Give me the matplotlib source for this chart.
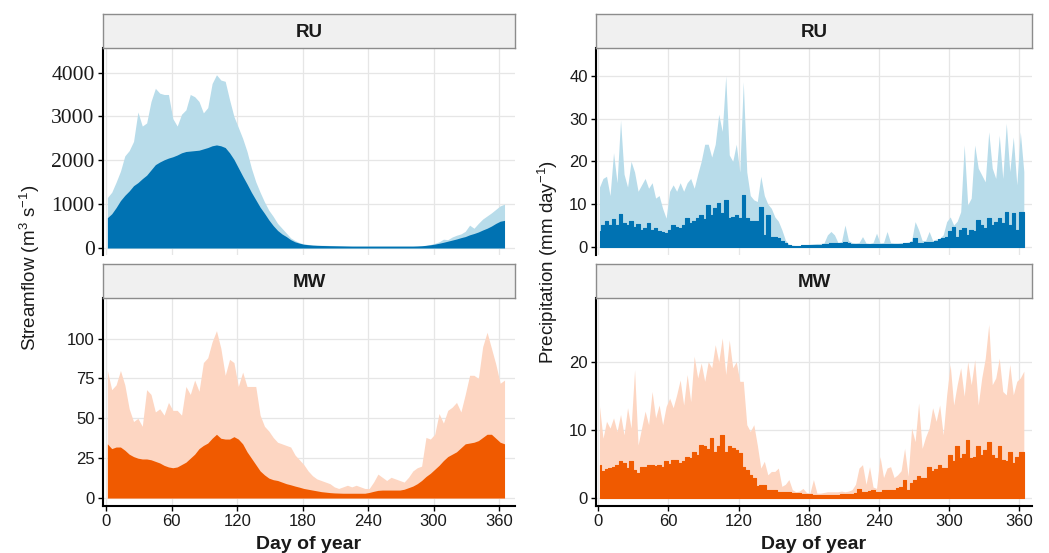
import numpy as np
import matplotlib
matplotlib.use("Agg")
import matplotlib.pyplot as plt

plt.rcParams['font.family'] = ['Liberation Sans', 'DejaVu Sans']
plt.rcParams['mathtext.default'] = 'regular'

# ---- data (day of year) ----
flow_days = list(range(1, 366, 4))      # 4-day steps
rain_days = list(range(1, 365, 3))      # 3-day steps

ru_flow_max = [1150, 1270, 1500, 1750, 2100, 2220, 2430, 3100, 2780, 2850,
               3340, 3640, 3530, 3500, 3500, 2950, 2780, 3050, 3150, 3500,
               3450, 3340, 3080, 3200, 3750, 3950, 3830, 3800, 3380, 3000,
               2750, 2500, 2200, 1820, 1510, 1270, 1050, 860, 720, 560,
               450, 340, 230, 170, 120, 95, 80, 70, 65, 62,
               60, 57, 55, 52, 50, 48, 47, 46, 46, 46,
               46, 46, 46, 46, 46, 46, 46, 46, 46, 46,
               46, 48, 52, 60, 80, 105, 140, 200, 190, 250,
               290, 320, 380, 520, 450, 560, 660, 730, 800, 880,
               960, 1000]
ru_flow_mean = [690, 780, 920, 1080, 1200, 1300, 1420, 1490, 1580, 1660,
                1780, 1900, 1960, 2010, 2050, 2080, 2120, 2170, 2200, 2210,
                2220, 2230, 2260, 2290, 2330, 2350, 2330, 2290, 2170, 2020,
                1830, 1640, 1460, 1270, 1100, 930, 790, 640, 510, 400,
                320, 260, 190, 140, 110, 85, 75, 65, 60, 57,
                55, 52, 50, 48, 46, 44, 42, 42, 42, 42,
                42, 42, 42, 42, 42, 42, 42, 42, 42, 42,
                42, 45, 50, 60, 72, 88, 108, 130, 155, 180,
                205, 235, 260, 300, 330, 365, 410, 450, 500, 560,
                610, 630]

mw_flow_max = [80, 68, 71, 80, 71, 56, 48, 50, 45, 68,
               65, 54, 56, 52, 60, 55, 55, 52, 70, 65,
               74, 67, 85, 88, 98, 105, 94, 77, 87, 85,
               70, 79, 70, 70, 70, 52, 45, 42, 38, 35,
               34, 33, 32, 27, 24, 21, 17, 14, 12, 11,
               10, 9, 7, 6, 7, 8, 7, 8, 7, 6,
               6, 10, 15, 13, 11, 13, 12, 11, 10, 13,
               17, 19, 20, 38, 37, 40, 53, 47, 55, 57,
               60, 54, 65, 77, 77, 75, 95, 104, 94, 84,
               72, 74]
mw_flow_mean = [34, 31, 32, 32, 30, 27.5, 26, 25, 24.5, 24.5,
                24, 23, 22, 20.5, 19.5, 19, 19.5, 21, 22.5, 25,
                27.5, 31, 33, 34.5, 37.5, 40, 37.5, 37, 37, 38.5,
                37, 34, 29, 25, 21, 17, 14.5, 12.5, 11.5, 11,
                10, 9, 8.3, 7.5, 6.8, 6, 5.5, 5, 4.5, 4,
                3.7, 3.4, 3.2, 3.1, 3, 3, 3, 3, 3, 3,
                3.5, 4.2, 4.8, 5, 5, 5, 5, 5, 5.5, 6.5,
                7.5, 9, 11, 13.5, 15.5, 18, 20.5, 23.5, 26, 27.5,
                29, 31.5, 34, 34.5, 35, 36, 38, 40, 40, 37.5,
                35, 34]

ru_rain_max = [14, 16, 16.5, 12, 22, 15, 29.6, 17, 14, 20,
               17.5, 13, 14.5, 16, 13.7, 15, 11.4, 12, 9, 6.7,
               13, 14.5, 13, 15, 13, 15, 16, 13.7, 17, 20,
               24, 24, 21, 24, 31, 27, 40, 21.5, 20, 24,
               17.5, 38.6, 17.5, 12, 11, 10.6, 16.5, 12, 10, 9,
               7, 6, 4, 1.6, 0.6, 0.4, 0.3, 0.3, 0.4, 0.5,
               0.6, 0.7, 0.8, 0.8, 0.9, 2.8, 3.6, 2.8, 1.0, 1.2,
               5.1, 1.5, 1.0, 0.9, 1.0, 2.4, 0.9, 0.8, 1.0, 3.2,
               0.9, 1.0, 3.6, 1.0, 0.9, 0.9, 1.0, 1.0, 1.1, 1.5,
               5.9, 4.0, 1.5, 1.5, 3.6, 1.5, 1.8, 2.0, 2.8, 5.9,
               7.0, 5.1, 6.0, 8.2, 23.8, 9.8, 11.4, 23.8, 18.4, 16.8,
               15.2, 26.9, 18.4, 16, 26.1, 16, 28.9, 17.6, 25.7, 14.5,
               26.9, 17.6]
ru_rain_mean = [3.6, 5, 6, 5, 6.5, 5, 7.8, 5.5, 5, 6,
                4.7, 5.3, 4, 4.4, 5.5, 4, 4.5, 3.6, 3.4, 3.2,
                4, 5, 4.7, 4.5, 5, 6.7, 5.5, 6, 6.7, 7.5,
                6.5, 9.8, 7.5, 9, 10.2, 7.9, 11, 6.7, 7, 7.5,
                6.7, 12.1, 6.7, 6, 6, 6, 9.4, 2.8, 7.5, 2.4,
                2.4, 2, 1.4, 0.9, 0.4, 0.3, 0.2, 0.3, 0.4, 0.5,
                0.5, 0.5, 0.5, 0.5, 0.6, 0.6, 0.8, 0.8, 0.8, 0.9,
                1.2, 0.8, 0.6, 0.6, 0.6, 0.6, 0.6, 0.6, 0.6, 0.6,
                0.6, 0.6, 0.6, 0.6, 0.6, 0.6, 0.7, 0.8, 0.8, 1.2,
                2.0, 0.9, 1.0, 1.2, 1.2, 1.2, 1.4, 1.9, 2.0, 2.4,
                3.6, 4.7, 2.4, 4.0, 4.4, 2.8, 4.0, 3.6, 6.3, 5.1,
                4.5, 6.7, 5.1, 5.9, 6.7, 5.5, 8.2, 5.1, 7.9, 4,
                8.2, 8.2]

mw_rain_max = [13.5, 8.8, 11.3, 10.3, 11.8, 9.8, 12.3, 9.3, 13.3, 10.3,
               18.9, 7.8, 10.3, 12.8, 10.8, 15.7, 11.8, 13.7, 10.8, 13.5,
               14.7, 13.3, 15.2, 17.4, 13.7, 18.2, 14.2, 20.9, 17.7, 19.9,
               17.2, 20.1, 19.2, 22.6, 20.1, 23.6, 18.2, 23.3, 19.2, 20.1,
               17.2, 17.2, 10.8, 9.8, 10.8, 7.8, 4.4, 5.4, 3.4, 3.9,
               3.9, 4.4, 1.7, 2.0, 2.7, 1.2, 0.9, 1.0, 1.4, 0.8,
               0.7, 2.7, 0.7, 0.7, 0.8, 0.9, 0.9, 0.9, 0.9, 1.0,
               0.9, 1.0, 1.2, 2.0, 4.4, 4.9, 2.0, 4.6, 1.6, 1.4,
               6.1, 3.0, 4.4, 4.6, 3.0, 3.4, 4.0, 7.3, 3.2, 10.3,
               8.3, 14, 7.3, 9.0, 10.3, 13.3, 11.3, 13.7, 9.3, 15.2,
               19.7, 13.7, 16.7, 19.2, 15, 20.1, 16.7, 20.4, 13.7, 17.7,
               20.6, 25.6, 16.7, 17.7, 20.6, 15.7, 15.2, 19.7, 15.2, 17.2,
               17.7, 18.7]
mw_rain_mean = [4.9, 3.9, 4.2, 4.4, 4.6, 4.8, 5.4, 5.1, 4.4, 5.4,
                4.1, 3.6, 4.6, 4.5, 4.8, 4.9, 4.7, 4.9, 4.6, 5.4,
                5.0, 5.6, 5.6, 5.1, 5.4, 6.1, 5.9, 6.8, 6.4, 7.8,
                7.6, 7.2, 8.8, 6.8, 7.6, 9.3, 6.8, 7.6, 7.3, 7.0,
                6.6, 4.6, 4.1, 3.4, 2.9, 1.7, 1.9, 1.9, 1.2, 1.2,
                1.2, 0.9, 0.8, 0.8, 0.8, 0.7, 0.7, 0.7, 0.6, 0.5,
                0.5, 0.4, 0.4, 0.4, 0.4, 0.4, 0.4, 0.4, 0.4, 0.5,
                0.55, 0.55, 0.6, 0.7, 1.3, 0.9, 0.9, 1.0, 1.2, 0.9,
                0.9, 1.1, 1.2, 1.2, 1.2, 1.4, 1.6, 2.7, 1.2, 2.2,
                2.6, 3.2, 3.0, 2.9, 4.6, 3.9, 4.3, 4.9, 4.4, 4.4,
                6.4, 5.4, 7.6, 5.9, 6.5, 8.6, 5.9, 6.1, 7.6, 6.4,
                7.0, 8.3, 6.4, 5.9, 7.6, 5.6, 5.4, 6.8, 5.1, 6.0,
                6.8, 6.8]

x_ticks = [0, 60, 120, 180, 240, 300, 360]

ru_light, ru_dark = '#b8dcea', '#0072b2'
mw_light, mw_dark = '#fdd6c2', '#f05a00'

W, H = 1049, 553
fig = plt.figure(figsize=(W / 100, H / 100), dpi=100)


def px_axes(x0, y0, x1, y1):
    return fig.add_axes([x0 / W, 1 - y1 / H, (x1 - x0) / W, (y1 - y0) / H])


def strip(x0, x1, y0, y1, label):
    s = px_axes(x0, y0, x1, y1)
    s.set_facecolor('#f0f0f0')
    s.set_xticks([])
    s.set_yticks([])
    for sp in s.spines.values():
        sp.set_color('#8c8c8c')
        sp.set_linewidth(1.0)
    s.text(0.5, 0.45, label, transform=s.transAxes, ha='center', va='center',
           fontsize=13.5, fontweight='bold', color='#1a1a1a')


def style_panel(ax, xlim, ylim, yticks, bottom, serif=False):
    ax.set_xlim(*xlim)
    ax.set_ylim(*ylim)
    ax.set_xticks(x_ticks)
    ax.set_yticks(yticks)
    ax.grid(True, color='#e6e6e6', linewidth=0.9)
    ax.set_axisbelow(True)
    for k in ['top', 'right']:
        ax.spines[k].set_visible(False)
    ax.spines['left'].set_linewidth(1.5)
    ax.spines['left'].set_color('black')
    ax.tick_params(axis='y', length=3.5, width=1.0, pad=2.5, labelsize=12,
                   labelcolor='#1a1a1a')
    if serif:
        ax.tick_params(axis='y', labelsize=15.5)
        for t in ax.get_yticklabels():
            t.set_family(['Liberation Serif', 'DejaVu Serif'])
    if bottom:
        ax.spines['bottom'].set_linewidth(1.5)
        ax.spines['bottom'].set_color('black')
        ax.tick_params(axis='x', length=3.5, width=1.0, pad=2, labelsize=12,
                       labelcolor='#1a1a1a')
    else:
        ax.spines['bottom'].set_visible(False)
        ax.tick_params(axis='x', length=0, labelbottom=False)


# streamflow RU
ax = px_axes(103, 48, 515, 255)
ax.fill_between(flow_days, ru_flow_max, color=ru_light, linewidth=0)
ax.fill_between(flow_days, ru_flow_mean, color=ru_dark, linewidth=0)
style_panel(ax, (-3, 374.6), (-160, 4560), [0, 1000, 2000, 3000, 4000], False, serif=True)
strip(103, 515, 14, 48, 'RU')

# streamflow MW
ax = px_axes(103, 298, 515, 506)
ax.fill_between(flow_days, mw_flow_max, color=mw_light, linewidth=0)
ax.fill_between(flow_days, mw_flow_mean, color=mw_dark, linewidth=0)
style_panel(ax, (-3, 374.6), (-5, 125.5), [0, 25, 50, 75, 100], True)
strip(103, 515, 264, 298, 'MW')

# precipitation RU
ax = px_axes(596, 48, 1032, 255)
ax.fill_between(rain_days, ru_rain_max, color=ru_light, linewidth=0)
ax.fill_between(rain_days, ru_rain_mean, step='mid', color=ru_dark,
                edgecolor=ru_dark, linewidth=0.8)
style_panel(ax, (-2, 371), (-1.9, 46.5), [0, 10, 20, 30, 40], False)
strip(596, 1032, 14, 48, 'RU')

# precipitation MW
ax = px_axes(596, 298, 1032, 506)
ax.fill_between(rain_days, mw_rain_max, color=mw_light, linewidth=0)
ax.fill_between(rain_days, mw_rain_mean, step='mid', color=mw_dark,
                edgecolor=mw_dark, linewidth=0.8)
style_panel(ax, (-2, 371), (-1.2, 29.5), [0, 10, 20], True)
strip(596, 1032, 264, 298, 'MW')

fig.text(30 / W, 1 - 268 / H, 'Streamflow (m$^3$ s$^{-1}$)', rotation=90,
         ha='center', va='center', fontsize=13.5, color='#1a1a1a')
fig.text(548 / W, 1 - 262 / H, 'Precipitation (mm day$^{-1}$)', rotation=90,
         ha='center', va='center', fontsize=13.5, color='#1a1a1a')
fig.text(309 / W, 1 - 536 / H, 'Day of year', ha='center', va='top',
         fontsize=14, fontweight='bold', color='#1a1a1a')
fig.text(814 / W, 1 - 536 / H, 'Day of year', ha='center', va='top',
         fontsize=14, fontweight='bold', color='#1a1a1a')

fig.savefig('out.png', dpi=100)
